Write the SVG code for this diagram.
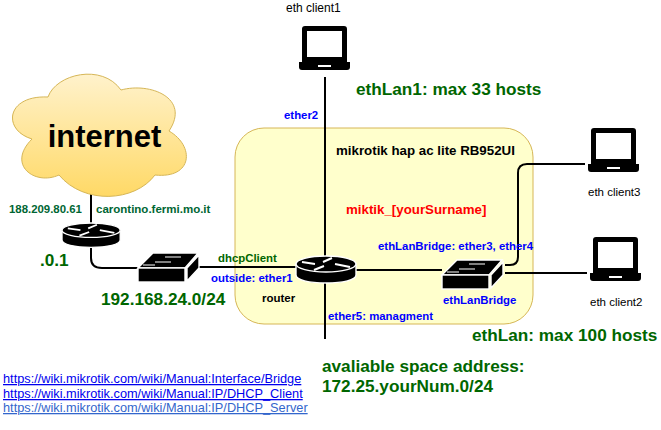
<svg xmlns="http://www.w3.org/2000/svg" width="661" height="430" viewBox="0 0 661 430">
<style>
text{font-family:"Liberation Sans",Arial,sans-serif}
.b{font-weight:700}
.blue{fill:#0000ff;font-size:11.4px;font-weight:700}
.green{fill:#006600;font-weight:700;font-size:17.2px}
.s{fill:#006633;font-size:11.4px;font-weight:700}
.k{fill:#000;font-size:11.5px}
.link{font-size:12.75px;text-decoration:underline}
.wire{fill:none;stroke:#000;stroke-width:2}
.ol{stroke:#fff;stroke-width:1.4;fill:#000}
.ar{stroke:#fff;stroke-width:2;fill:none}
.ar2{stroke:#fff;stroke-width:1.2;fill:none}
</style>
<defs>
<linearGradient id="cg" x1="0" y1="0" x2="0" y2="1"><stop offset="0" stop-color="#fff2cc"/><stop offset="1" stop-color="#ffd966"/></linearGradient>
<symbol id="laptop" overflow="visible"><path fill="#000" d="M6 0H45Q48 0 48 3V36H3V3Q3 0 6 0ZM8 5V31H43V5Z" fill-rule="evenodd"/><path fill="#000" d="M0 36H51V41Q51 44 48 44H3Q0 44 0 41Z"/><rect x="19" y="39" width="13" height="2" fill="#fff"/></symbol>
<symbol id="router" overflow="visible"><path class="ol" d="M0 8V19C0 24 13 27 30 27S60 24 60 19V8Z"/><ellipse cx="30" cy="8" rx="30" ry="8" class="ol"/><path class="ar" d="M6 6L19 8M54 11L39 8M27 6L36 2M18 14L28 10"/></symbol>
<symbol id="switch" overflow="visible"><path class="ol" d="M0 15L15 0H60L47 15Z"/><rect x="0" y="15" width="47" height="14" class="ol"/><path class="ol" d="M49 15L61 2V15L49 28Z"/><path class="ar2" d="M27 4H43M33 9H17M17 12H5"/></symbol>
</defs>

<g id="lan-area"><rect x="235" y="128" width="298" height="196" rx="29" fill="#ffffcc" stroke="#d6b656"/></g>

<g id="connectors">
<path class="wire" d="M91 191V223"/>
<path class="wire" d="M91 247V258Q91 268 102 268H138"/>
<path class="wire" d="M199 267H296"/>
<path class="wire" d="M325 77V256"/>
<path class="wire" d="M325 283V339"/>
<path class="wire" d="M354 270H442"/>
<path class="wire" d="M505 265H510Q518 265 518 257V173Q518 164 527 164H585"/>
<path class="wire" d="M505 273H587"/>
</g>

<g id="internet">
<path fill="url(#cg)" stroke="#d6b656" d="M48 97C56 74 102 63 121 90C150 82 191 98 169 131C195 146 193 179 155 175C135 202 84 205 59 175C35 186 6 165 32 139C2 130 6 95 48 97Z"/>
<text x="104.500" y="147" text-anchor="middle" class="b" font-size="31">internet</text>
</g>

<g id="gw-router">
<use href="#router" x="62" y="223" transform="translate(62 223) scale(.97 .9) translate(-62 -223)"/>
</g>
<g id="ext-switch"><use href="#switch" x="138" y="253"/></g>
<g id="router-main"><use href="#router" x="296" y="256"/><text x="262" y="302" class="b k">router</text></g>
<g id="ethLanBridge"><use href="#switch" x="442" y="260"/><text x="443" y="304" class="blue">ethLanBridge</text></g>
<g id="client1"><use href="#laptop" x="299" y="26"/><text x="286" y="12" class="k" style="font-size:12px">eth client1</text></g>
<g id="client3"><use href="#laptop" x="588" y="128"/><text x="588" y="196" class="k">eth client3</text></g>
<g id="client2"><use href="#laptop" x="590" y="237"/><text x="590" y="306" class="k">eth client2</text></g>

<g id="labels">
<text x="9" y="213" class="s">188.209.80.61</text>
<text x="96" y="213" class="s" style="font-size:11.5px">carontino.fermi.mo.it</text>
<text x="40" y="266" class="green">.0.1</text>
<text x="101" y="305" class="green">192.168.24.0/24</text>
<text x="218" y="262" class="b" fill="#006600" font-size="11.400">dhcpClient</text>
<text x="211" y="282" class="blue">outside: ether1</text>
<text x="284" y="119" class="blue">ether2</text>
<text x="356" y="95" class="green">ethLan1: max 33 hosts</text>
<text x="336" y="155" class="b k" style="font-size:13.3px">mikrotik hap ac lite RB952UI</text>
<text x="346" y="214" class="b" fill="#ff0000" font-size="13.300">miktik_[yourSurname]</text>
<text x="378" y="250" class="blue">ethLanBridge: ether3, ether4</text>
<text x="328" y="320" class="blue">ether5: managment</text>
<text x="472" y="341" class="green">ethLan: max 100 hosts</text>
<text x="322" y="372" class="green">avaliable space address:</text>
<text x="322" y="392" class="green">172.25.yourNum.0/24</text>
<text x="3" y="383" class="link" fill="#0000ee">https://wiki.mikrotik.com/wiki/Manual:Interface/Bridge</text>
<text x="3" y="398" class="link" fill="#0000ee">https://wiki.mikrotik.com/wiki/Manual:IP/DHCP_Client</text>
<text x="3" y="412" class="link" fill="#3366cc">https://wiki.mikrotik.com/wiki/Manual:IP/DHCP_Server</text>
</g>
</svg>
